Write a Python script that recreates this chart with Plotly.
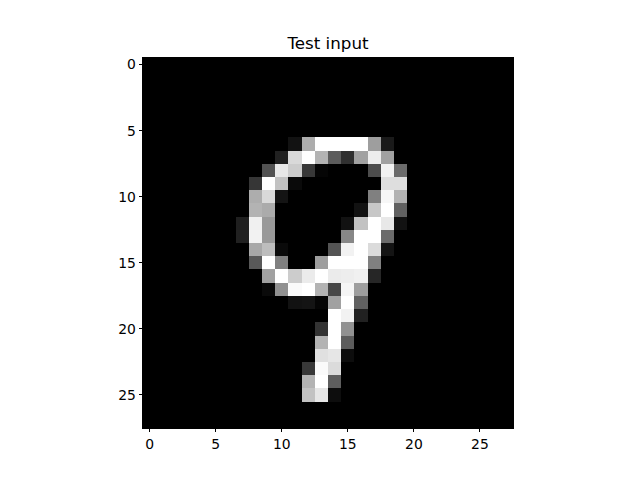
import plotly.graph_objects as go

# Pixel intensities (0-255), by row
rows = [6, 7, 8, 9, 10, 11, 12, 13, 14, 15, 16, 17, 18, 19, 20, 21, 22, 23, 24, 25]
first_col = [11, 10, 9, 8, 8, 8, 7, 7, 8, 8, 9, 9, 11, 14, 13, 13, 13, 12, 12, 12]
row_values = [
    [18, 173, 255, 255, 255, 255, 158, 26],
    [33, 217, 255, 179, 92, 48, 161, 237, 161],
    [82, 232, 204, 56, 5, 0, 0, 0, 77, 242, 107],
    [54, 255, 194, 10, 0, 0, 0, 0, 0, 0, 222, 222],
    [173, 217, 20, 0, 0, 0, 0, 0, 0, 128, 247, 179],
    [179, 171, 0, 0, 0, 0, 0, 0, 18, 199, 255, 97],
    [31, 240, 153, 0, 0, 0, 0, 0, 18, 194, 255, 232, 18],
    [33, 242, 153, 0, 0, 0, 0, 0, 135, 255, 255, 107],
    [168, 189, 10, 0, 0, 0, 84, 242, 255, 219, 20],
    [89, 255, 128, 0, 0, 158, 255, 255, 255, 128],
    [161, 255, 204, 235, 255, 235, 237, 240, 38],
    [10, 145, 250, 255, 179, 71, 245, 158],
    [18, 20, 5, 161, 255, 97],
    [255, 242, 33],
    [51, 255, 145],
    [179, 255, 92],
    [224, 230, 13],
    [56, 250, 219],
    [179, 255, 94],
    [194, 230, 13],
]
size = 28
tick_vals = [0, 5, 10, 15, 20, 25]

grid = [[0] * size for _ in range(size)]
for r, c0, vals in zip(rows, first_col, row_values):
    for k, v in enumerate(vals):
        grid[r][c0 + k] = v

fig = go.Figure(go.Heatmap(
    z=grid, x=list(range(size)), y=list(range(size)),
    colorscale=[[0, "black"], [1, "white"]], zmin=0, zmax=255,
    showscale=False, hoverinfo="skip",
))

font = dict(family="DejaVu Sans", size=13.9, color="black")
axis_common = dict(
    tickvals=tick_vals, ticks="outside", ticklen=3.5, tickwidth=0.8, tickcolor="black",
    showline=True, linecolor="black", linewidth=0.8, mirror=True,
    showgrid=False, zeroline=False, tickfont=font,
)
fig.update_layout(
    width=640, height=480,
    margin=dict(l=135, r=135, t=50, b=60),
    paper_bgcolor="white", plot_bgcolor="black",
    title=dict(text="Test input", x=0.5, xref="paper", y=1 - 35 / 480, yref="container",
               yanchor="middle", font=dict(family="DejaVu Sans", size=16.7, color="black")),
    xaxis=dict(range=[-0.5, 27.5], **axis_common),
    yaxis=dict(range=[27.5, -0.5], scaleanchor="x", scaleratio=1, **axis_common),
)
fig.write_html("out.html")
